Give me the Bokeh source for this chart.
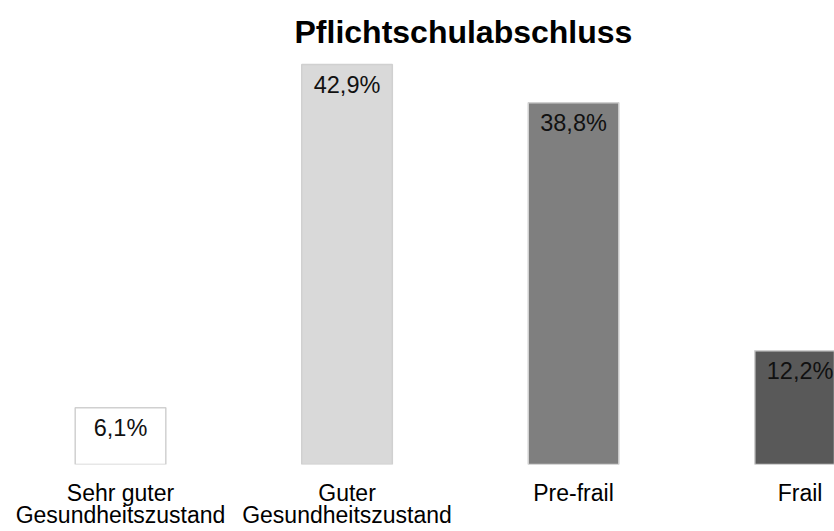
from bokeh.plotting import figure
from bokeh.models import Range1d, FixedTicker
from bokeh.core.properties import value
from bokeh.embed import file_html
from bokeh.resources import INLINE

categories = ["Sehr guter\nGesundheitszustand", "Guter\nGesundheitszustand", "Pre-frail", "Frail"]
values = [6.1, 42.9, 38.8, 12.2]
labels = ["6,1%", "42,9%", "38,8%", "12,2%"]
colors = ["#ffffff", "#d9d9d9", "#7f7f7f", "#595959"]
title = "Pflichtschulabschluss"

xs = list(range(len(categories)))

p = figure(width=834, height=531, output_backend="svg", toolbar_location=None,
           x_range=Range1d(-0.5298, 3.152), y_range=Range1d(0, 43.98),
           min_border_left=0, min_border_right=0, min_border_top=54, min_border_bottom=0)

p.title.text = title
p.title.align = "left"
p.title.offset = 294
p.title.text_font = "Liberation Sans"
p.title.text_font_size = "32px"
p.title.text_font_style = "bold"
p.title.text_color = "#000000"

p.vbar(x=xs, top=values, width=0.4, bottom=0, fill_color=colors,
       line_color="#d0d0d0", line_width=1.5)

p.text(x=xs, y=values, text=labels, text_align="center", text_baseline="middle",
       y_offset=20, text_font=value("Liberation Sans"), text_font_size="23.5px",
       text_color="#111111")

p.xaxis.ticker = FixedTicker(ticks=xs)
p.xaxis.major_label_overrides = {i: c for i, c in zip(xs, categories)}
p.xaxis.axis_line_color = None
p.xaxis.major_tick_line_color = None
p.xaxis.minor_tick_line_color = None
p.xaxis.major_tick_out = 0
p.xaxis.major_tick_in = 0
p.xaxis.axis_label_standoff = 0
p.xaxis.major_label_text_font = "Liberation Sans"
p.xaxis.major_label_text_font_size = "23px"
p.xaxis.major_label_text_color = "#000000"
p.xaxis.major_label_standoff = 15
p.xaxis.major_label_text_line_height = 0.87
p.yaxis.visible = False
p.xgrid.grid_line_color = None
p.ygrid.grid_line_color = None
p.outline_line_color = None

open("out.html", "w").write(file_html(p, INLINE))
